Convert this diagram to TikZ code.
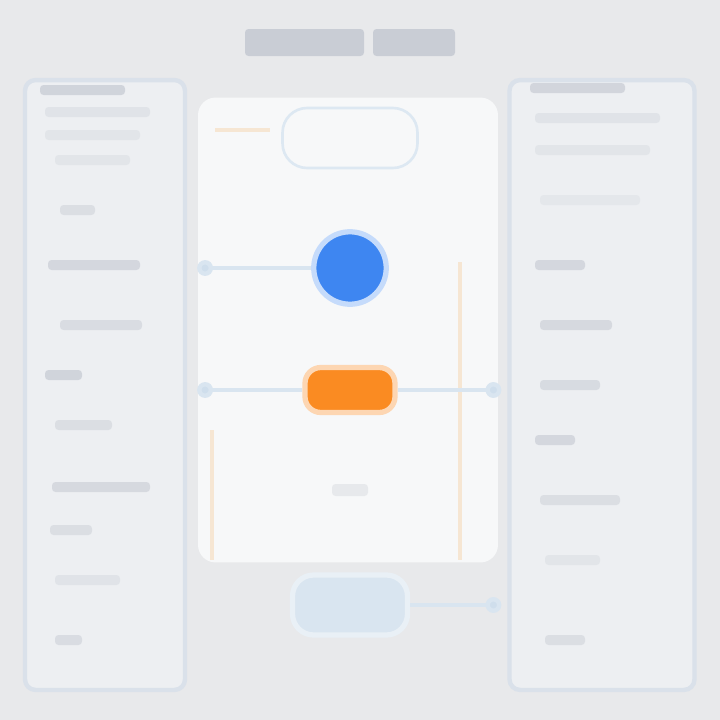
\documentclass[tikz,border=0pt]{standalone}
\usetikzlibrary{positioning,calc,arrows.meta,backgrounds}
\definecolor{BgGray}{HTML}{E8E9EB}
\definecolor{PanelFill}{HTML}{EDEFF2}
\definecolor{PanelEdge}{HTML}{DAE1EA}
\definecolor{BarGray}{HTML}{C9CDD5}
\definecolor{StageWhite}{HTML}{F7F8F9}
\definecolor{HubBlue}{HTML}{3E86F1}
\definecolor{ProcOrange}{HTML}{FA8B22}
\definecolor{PaleBlue}{HTML}{CFDEEC}
\definecolor{PaleOrange}{HTML}{F6E6D3}
\tikzset{
    panel/.style = {draw=PanelEdge, fill=PanelFill, line width=2.5pt,
        rounded corners=6pt},
    stage/.style = {fill=StageWhite, rounded corners=10pt},
    hub/.style = {circle, fill=HubBlue, draw=HubBlue!30, line width=3pt,
        minimum size=1.45cm},
    proc/.style = {rectangle, rounded corners=9pt, fill=ProcOrange,
        draw=ProcOrange!35, line width=3pt,
        minimum width=1.8cm, minimum height=0.9cm},
    src/.style = {rectangle, rounded corners=14pt, draw=PaleBlue!70,
        line width=1.5pt, minimum width=2.7cm, minimum height=1.2cm},
    sink/.style = {rectangle, rounded corners=12pt, fill=PaleBlue!80,
        draw=PaleBlue!45, line width=3pt,
        minimum width=2.3cm, minimum height=1.2cm},
    link/.style = {draw=PaleBlue!80, line width=2.5pt},
    dotlink/.style = {link, {Circle[length=9pt,fill=PaleBlue]}-},
    faintorange/.style = {draw=PaleOrange, line width=2pt},
    bar/.style = {rounded corners=2pt}
}
\begin{document}
\begin{tikzpicture}[x=0.02cm,y=-0.02cm]
    \fill[BgGray] (0,0) rectangle (720,720);
    % title
    \fill[BarGray,bar] (245,29) rectangle (364,56);
    \fill[BarGray,bar] (373,29) rectangle (455,56);
    % side panels
    \node[panel, minimum width=3.2cm, minimum height=12.2cm] (lpanel) at (105,385) {};
    \node[panel, minimum width=3.7cm, minimum height=12.2cm] (rpanel) at (602,385) {};
    \foreach \y/\xa/\xb/\s in {90/40/125/80,112/45/150/35,135/45/140/30,160/55/130/30,
        210/60/95/50,265/48/140/70,325/60/142/55,375/45/82/80,425/55/112/50,
        487/52/150/65,530/50/92/50,580/55/120/35,640/55/82/55}{
        \fill[BarGray!\s!PanelFill,bar] (\xa,\y-5) rectangle (\xb,\y+5);
    }
    \foreach \y/\xa/\xb/\s in {88/530/625/75,118/535/660/35,150/535/650/30,200/540/640/25,
        265/535/585/70,325/540/612/65,385/540/600/60,440/535/575/70,
        500/540/620/50,560/545/600/30,640/545/585/50}{
        \fill[BarGray!\s!PanelFill,bar] (\xa,\y-5) rectangle (\xb,\y+5);
    }
    % centre
    \node[stage, minimum width=6cm, minimum height=9.3cm] (stage) at (348,330) {};
    \draw[faintorange] (215,130) -- (270,130);
    \draw[faintorange] (460,262) -- (460,560);
    \draw[faintorange] (212,430) -- (212,560);
    \node[src] (src) at (350,138) {};
    \node[hub] (hub) at (350,268) {};
    \node[proc] (proc) at (350,390) {};
    \node[sink] (sink) at (350,605) {};
    \fill[BarGray!45,bar] (332,484) rectangle (368,496);
    % connectors
    \draw[dotlink] ($(lpanel.east |- hub)+(10,0)$) -- (hub);
    \draw[dotlink] ($(lpanel.east |- proc)+(10,0)$) -- (proc);
    \draw[dotlink] ($(rpanel.west |- proc)+(-6,0)$) -- (proc);
    \draw[dotlink] ($(rpanel.west |- sink)+(-6,0)$) -- (sink);
\end{tikzpicture}
\end{document}
